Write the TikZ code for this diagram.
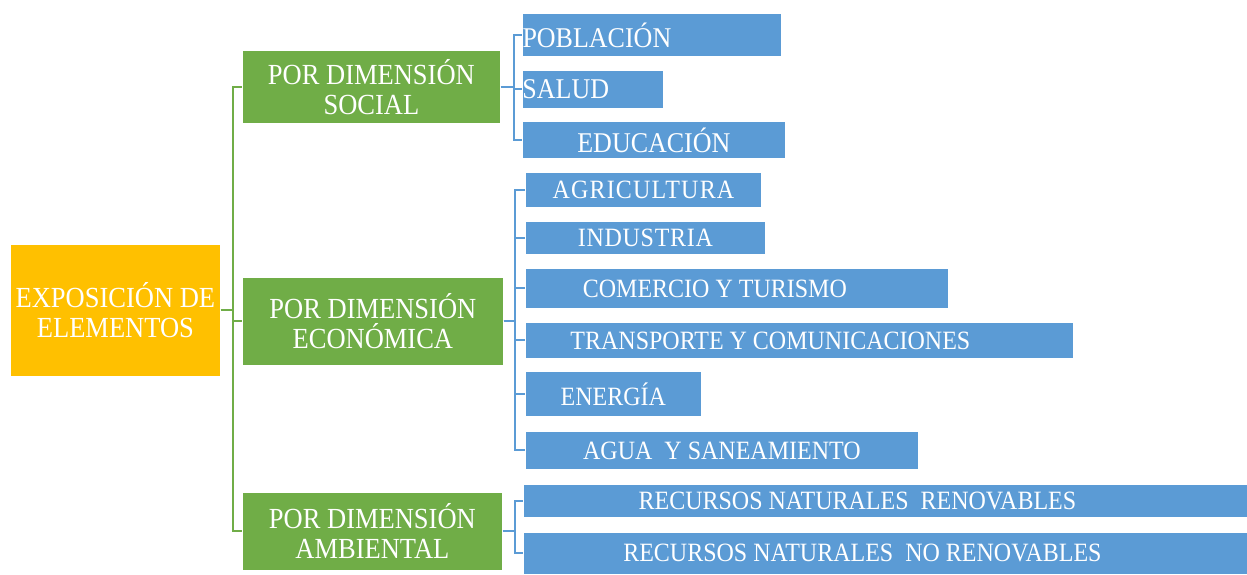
\documentclass[tikz,border=0pt]{standalone}
\usepackage{fontspec}
\setmainfont{Liberation Serif}
\definecolor{cOrange}{HTML}{FFC000}
\definecolor{cGreen}{HTML}{70AD47}
\definecolor{cBlue}{HTML}{5B9BD5}
\newcommand\vst[1]{\scalebox{1}[1.1]{#1}}
\begin{document}
\begin{tikzpicture}[x=1pt,y=-1pt,
  box/.style={rectangle, anchor=north west, inner sep=0pt, text=white, draw=white, line width=0.8pt},
  orangebox/.style={box, fill=cOrange, align=center, font=\fontsize{26.5}{30}\selectfont},
  greenbox/.style={box, fill=cGreen, align=center, font=\fontsize{26.5}{30}\selectfont},
  bluebox/.style={box, fill=cBlue, font=\fontsize{24}{28}\selectfont},
  bluebig/.style={box, fill=cBlue, font=\fontsize{26}{28}\selectfont},
  gline/.style={draw=cGreen, line width=2pt},
  bline/.style={draw=cBlue, line width=2pt}]
\useasboundingbox (0,0) rectangle (1247,574);
\fill[white] (0,0) rectangle (1247,574);

% root
\node[orangebox, minimum width=210, minimum height=132] (ex) at (10,244) {\vst{EXPOSICIÓN DE}\\\vst{ELEMENTOS}};

% level 1
\node[greenbox, minimum width=258, minimum height=73] (g1) at (242,50) {\vst{POR DIMENSIÓN}\\\vst{SOCIAL}};
\node[greenbox, minimum width=261, minimum height=88] (g2) at (242,277) {\vst{POR DIMENSIÓN}\\\vst{ECONÓMICA}};
\node[greenbox, minimum width=260, minimum height=78] (g3) at (242,492) {\vst{POR DIMENSIÓN}\\\vst{AMBIENTAL}};

% level 2 - social
\node[bluebig, minimum width=259, minimum height=43] (pob) at (522,13) {\vst{POBLACIÓN}\hspace*{110pt}};
\node[bluebig, minimum width=140, minimum height=38] (sal) at (522,70) {\vst{SALUD}\hspace*{54pt}};
\node[bluebig, minimum width=263, minimum height=37] (edu) at (522,121) {\vst{EDUCACIÓN}};

% level 2 - economic
\node[bluebox, minimum width=236, minimum height=35] (agr) at (525,172) {\addfontfeature{LetterSpace=5}\vst{AGRICULTURA}};
\node[bluebox, minimum width=240, minimum height=33] (ind) at (525,221) {\addfontfeature{LetterSpace=3}\vst{INDUSTRIA}};
\node[bluebox, minimum width=423, minimum height=40] (com) at (525,268) {\vst{COMERCIO Y TURISMO}\hspace*{44pt}};
\node[bluebox, minimum width=548, minimum height=36] (tra) at (525,322) {\vst{TRANSPORTE Y COMUNICACIONES}\hspace*{58pt}};
\node[bluebox, minimum width=176, minimum height=45] (ene) at (525,371) {\vst{ENERGÍA}};
\node[bluebox, minimum width=393, minimum height=38] (agu) at (525,431) {\vst{AGUA \ Y SANEAMIENTO}};

% level 2 - environmental
\node[bluebox, minimum width=724, minimum height=33] (ren) at (523,484) {\vst{RECURSOS NATURALES \ RENOVABLES}\hspace*{56pt}};
\node[bluebox, minimum width=724, minimum height=42] (nor) at (523,532) {\vst{RECURSOS NATURALES \ NO RENOVABLES}\hspace*{46pt}};

% connectors root -> level 1
\foreach \t in {g1,g2,g3}
  \draw[gline] (ex.east) -- ++(12,0) |- (\t.west);

% connectors social
\foreach \t in {pob,sal,edu}
  \draw[bline] (g1.east) -- ++(13,0) |- (\t.west);
% connectors economic
\foreach \t in {agr,ind,com,tra,ene,agu}
  \draw[bline] (g2.east) -- ++(11,0) |- (\t.west);
% connectors environmental
\foreach \t in {ren,nor}
  \draw[bline] (g3.east) -- ++(12,0) |- (\t.west);
\end{tikzpicture}
\end{document}
